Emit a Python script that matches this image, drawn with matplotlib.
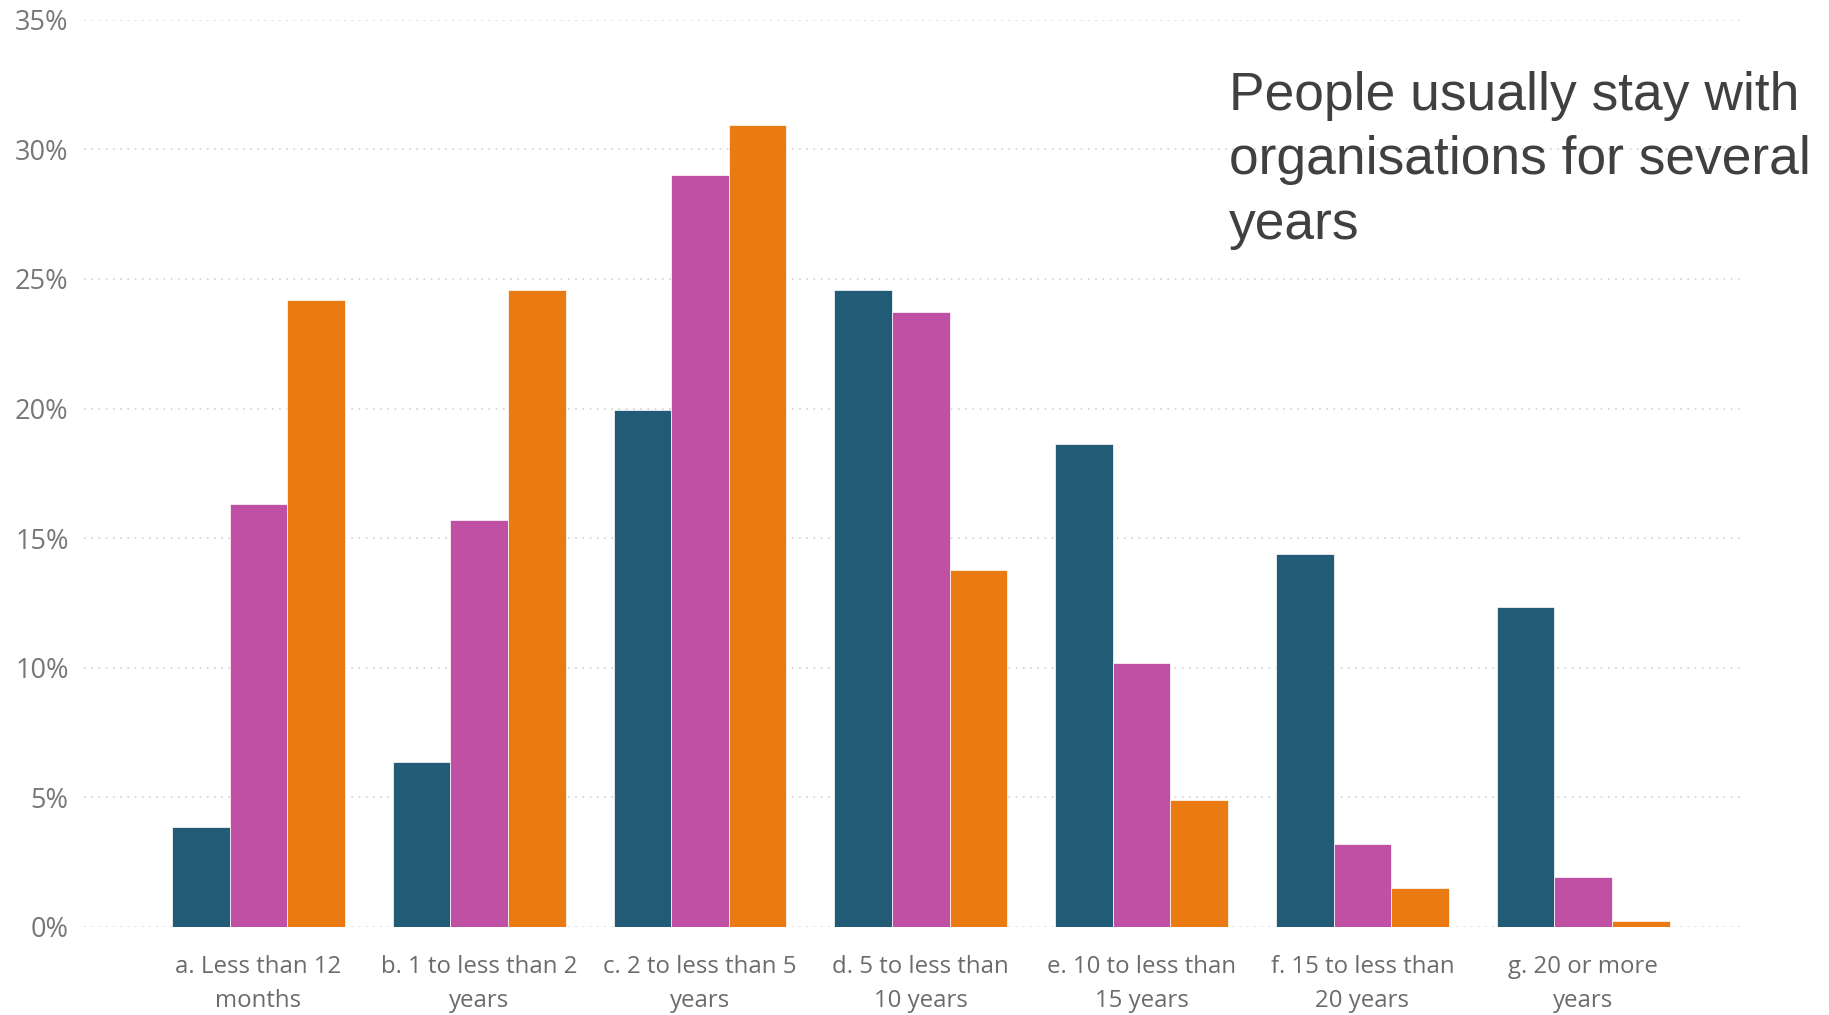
import numpy as np
import matplotlib
matplotlib.use("Agg")
import matplotlib.pyplot as plt
from matplotlib.ticker import PercentFormatter


# Tenure bands (x axis) and the three series
categories = [
    "a. Less than 12\nmonths",
    "b. 1 to less than 2\nyears",
    "c. 2 to less than 5\nyears",
    "d. 5 to less than\n10 years",
    "e. 10 to less than\n15 years",
    "f. 15 to less than\n20 years",
    "g. 20 or more\nyears",
]
series_blue = [3.84, 6.38, 19.93, 24.56, 18.62, 14.40, 12.33]
series_pink = [16.33, 15.71, 29.02, 23.71, 10.17, 3.22, 1.93]
series_orange = [24.18, 24.59, 30.95, 13.77, 4.89, 1.50, 0.22]
y_ticks = [0, 5, 10, 15, 20, 25, 30, 35]

title = "People usually stay with\norganisations for several\nyears"

colors = ["#225B76", "#C050A3", "#EA7A12"]

fig = plt.figure(figsize=(18.29, 10.15), dpi=100)
ax = fig.add_axes([0.0459, 0.0867, 0.9054, 0.8938])

x = np.arange(len(categories))
w = 0.261
for i, (vals, c) in enumerate(zip([series_blue, series_pink, series_orange], colors)):
    ax.bar(x + (i - 1) * w, vals, width=w, color=c, edgecolor="white",
           linewidth=0.5, zorder=3)

ax.set_xlim(-0.79, 6.71)
ax.set_ylim(0, 35)
ax.set_yticks(y_ticks)
ax.yaxis.set_major_formatter(PercentFormatter(decimals=0))
ax.grid(axis="y", color="#d8d8d8", linestyle=(0, (1, 3)), linewidth=1.3, zorder=0)
ax.set_xticks(x)
ax.set_xticklabels(categories, fontsize=17.3, color="#6b6b6b",
                   family="Open Sans", linespacing=1.55)
for lab in ax.get_yticklabels():
    lab.set_fontsize(19.5)
    lab.set_color("#777777")
    lab.set_family("Open Sans")
ax.tick_params(axis="both", length=0)
ax.tick_params(axis="y", pad=11)
ax.tick_params(axis="x", pad=20)
for s in ax.spines.values():
    s.set_visible(False)

fig.text(0.672, 1 - 71 / 1015, title, fontsize=38.4, color="#404040",
         family="Liberation Sans", va="top", ha="left", linespacing=1.37)

fig.savefig("out.png", dpi=100, facecolor="white")
